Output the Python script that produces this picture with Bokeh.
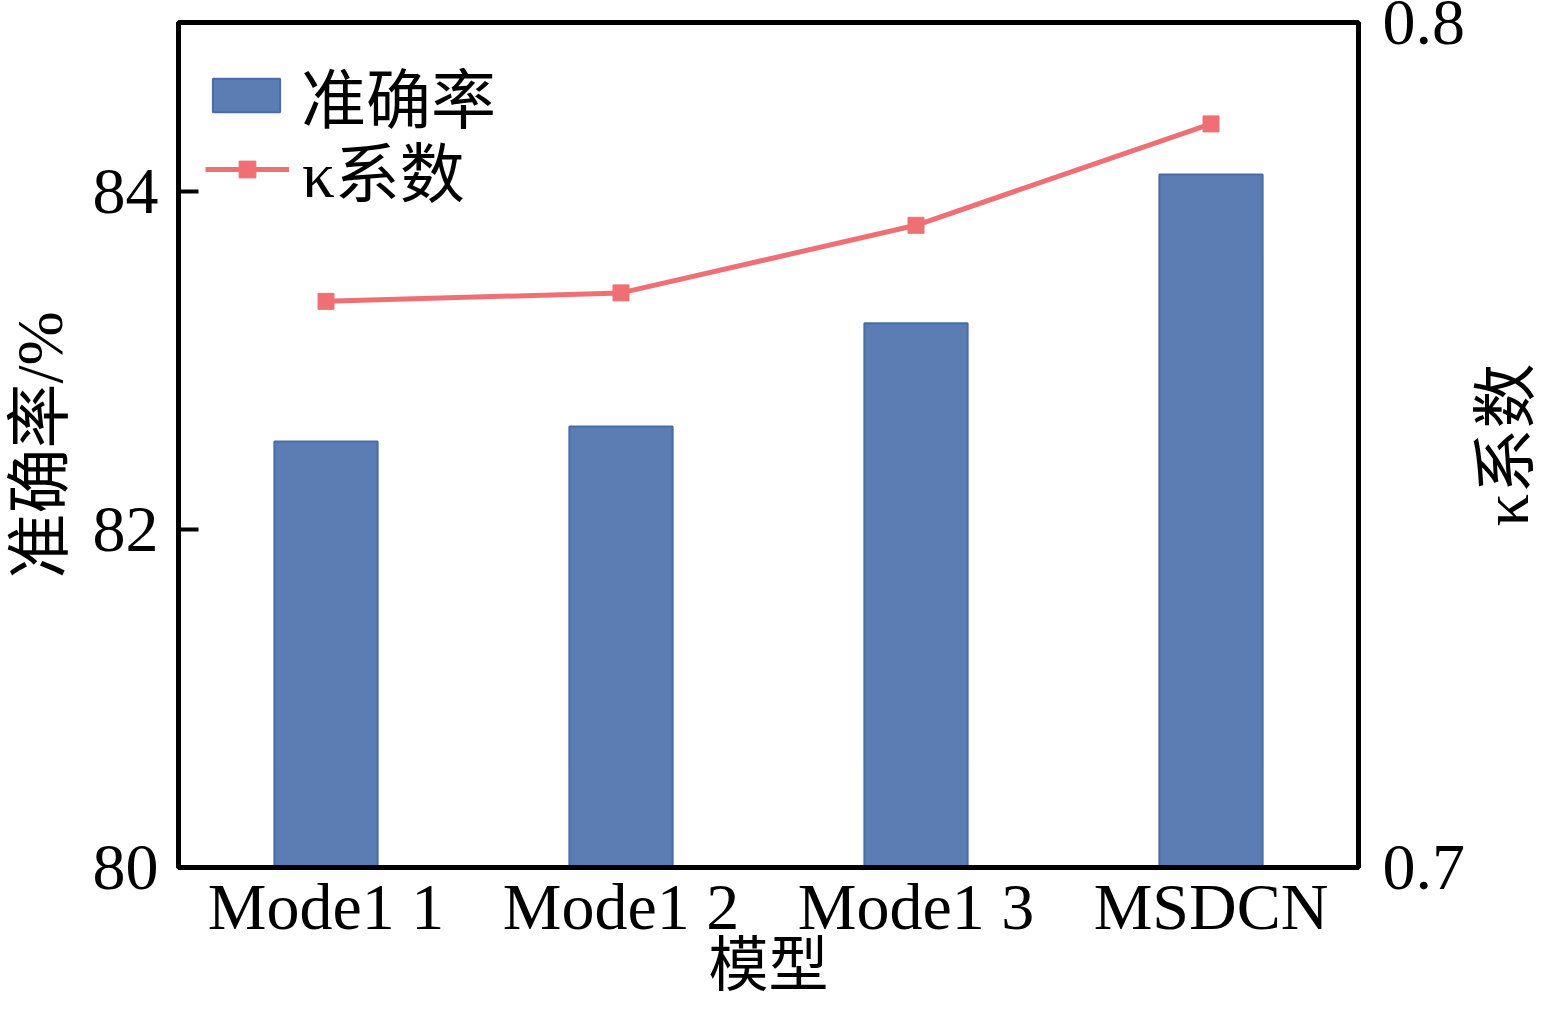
import math
from bokeh.plotting import figure
from bokeh.models import (Range1d, LinearAxis, FixedTicker, FactorRange,
                          Legend, LegendItem, Label)
from bokeh.embed import file_html
from bokeh.resources import INLINE

categories = ["Mode1 1", "Mode1 2", "Mode1 3", "MSDCN"]
accuracy = [82.52, 82.61, 83.22, 84.10]
kappa = [0.767, 0.768, 0.776, 0.788]
left_ticks = [80, 82, 84]
right_ticks = [0.7, 0.8]

FONT = "Liberation Serif, Noto Sans CJK SC"
FS = "66px"
BAR_COLOR = "#5B7DB4"
BAR_EDGE = "#4A6CA6"
LINE_COLOR = "#EE7074"

p = figure(x_range=FactorRange(*categories, range_padding=0),
           y_range=Range1d(80, 85),
           width=1546, height=1002,
           output_backend="svg", toolbar_location=None,
           min_border_left=178, min_border_right=188,
           min_border_top=22, min_border_bottom=135)
p.extra_y_ranges = {"kappa": Range1d(0.7, 0.8)}

bars = p.vbar(x=categories, top=accuracy, bottom=80, width=0.35,
              fill_color=BAR_COLOR, line_color=BAR_EDGE, line_width=2)
kline = p.line(x=categories, y=kappa, y_range_name="kappa",
               line_color=LINE_COLOR, line_width=5)
kpts = p.scatter(x=categories, y=kappa, y_range_name="kappa", marker="square",
                 size=16, fill_color=LINE_COLOR, line_color=LINE_COLOR)

p.grid.visible = False
p.outline_line_color = "black"
p.outline_line_width = 5
p.background_fill_color = "white"
p.border_fill_color = "white"

# left axis
ya = p.yaxis[0]
ya.ticker = FixedTicker(ticks=left_ticks)
ya.major_tick_in = 20
ya.major_tick_out = 0
ya.major_tick_line_width = 4
ya.major_tick_line_color = "black"
ya.minor_tick_line_color = None
ya.axis_line_width = 5
ya.axis_line_color = "black"
ya.major_label_text_font = FONT
ya.major_label_text_font_size = FS
ya.major_label_text_color = "black"
ya.major_label_standoff = 20
ya.axis_label = "准确率/%"
ya.axis_label_text_font = FONT
ya.axis_label_text_font_size = "65px"
ya.axis_label_text_font_style = "normal"
ya.axis_label_text_color = "black"
ya.axis_label_standoff = 14

# bottom axis
xa = p.xaxis[0]
xa.major_tick_line_color = None
xa.minor_tick_line_color = None
xa.major_tick_out = 0
xa.major_tick_in = 0
xa.axis_line_width = 5
xa.axis_line_color = "black"
xa.major_label_text_font = FONT
xa.major_label_text_font_size = FS
xa.major_label_text_color = "black"
xa.major_label_standoff = 2
xa.axis_label = "模型"
xa.axis_label_text_font = FONT
xa.axis_label_text_font_size = "60px"
xa.axis_label_text_font_style = "normal"
xa.axis_label_text_color = "black"
xa.axis_label_standoff = -13

# right axis
ra = LinearAxis(y_range_name="kappa", ticker=FixedTicker(ticks=right_ticks))
ra.major_tick_line_color = None
ra.minor_tick_line_color = None
ra.major_tick_out = 0
ra.major_tick_in = 0
ra.axis_line_width = 5
ra.axis_line_color = "black"
ra.major_label_text_font = FONT
ra.major_label_text_font_size = FS
ra.major_label_text_color = "black"
ra.major_label_standoff = 24
p.add_layout(ra, "right")

# right-hand axis title (reads bottom-to-top)
r_title = Label(text="κ系数", x=4.50, y=82.5, x_units="data", y_units="data",
                angle=math.pi / 2, angle_units="rad",
                text_align="center", text_baseline="middle",
                text_font=FONT, text_font_size="65px", text_color="black")
p.add_layout(r_title, "right")

common = dict(padding=0, spacing=0, glyph_width=84, glyph_height=42,
              label_height=40, label_standoff=13, label_text_font=FONT,
              label_text_font_size="65px", label_text_color="black",
              background_fill_alpha=0, border_line_color=None)
leg1 = Legend(items=[LegendItem(label="准确率", renderers=[bars])],
              location="top_left", margin=26, **common)
leg2 = Legend(items=[LegendItem(label="κ系数", renderers=[kline, kpts])],
              location=(27, 651), margin=0, **common)
p.add_layout(leg1)
p.add_layout(leg2)

open("out.html", "w").write(file_html(p, INLINE))
